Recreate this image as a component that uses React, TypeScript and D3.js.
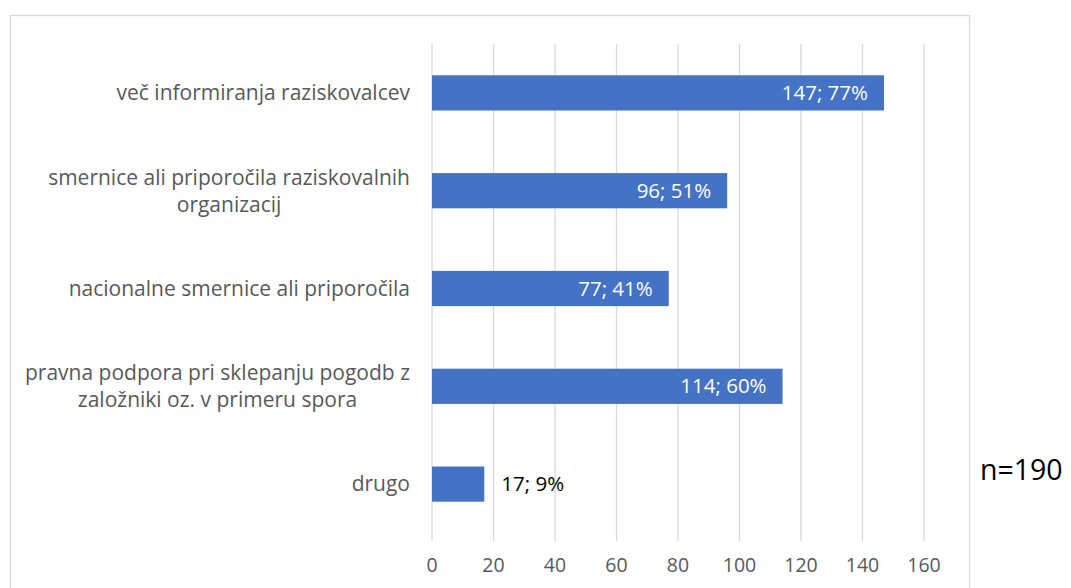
import React from 'react';
import * as d3 from 'd3';

const categories: string[][] = [
    ['več informiranja raziskovalcev'],
    ['smernice ali priporočila raziskovalnih', 'organizacij'],
    ['nacionalne smernice ali priporočila'],
    ['pravna podpora pri sklepanju pogodb z', 'založniki oz. v primeru spora'],
    ['drugo']
];
const counts = [147, 96, 77, 114, 17];
const percents = [77, 51, 41, 60, 9];
const xTicks = [0, 20, 40, 60, 80, 100, 120, 140, 160];
const note = 'n=190';

const svgWidth = 1071;
const svgHeight = 588;
const font = '"Open Sans", sans-serif';

const App = () => {
    const ref = React.useRef<SVGSVGElement>(null);

    React.useEffect(() => {
        document.body.style.margin = '0';
        const svg = d3.select(ref.current);
        svg.selectAll('*').remove();

        let x = d3.scaleLinear().domain([0, 160]).range([432, 924]);
        let y = d3.scaleBand<number>().domain(d3.range(counts.length)).range([44, 533])
            .paddingInner(0.64).paddingOuter(0.32);

        // outer border
        svg.append('rect').attr('x', 10.5).attr('y', 15.5).attr('width', 959).attr('height', 620)
            .attr('fill', 'white').attr('stroke', '#d9d9d9').attr('stroke-width', 1.3);

        // gridlines
        svg.append('g').selectAll('line').data(xTicks).join('line')
            .attr('x1', d => x(d)).attr('x2', d => x(d)).attr('y1', 44).attr('y2', 541)
            .attr('stroke', '#d9d9d9').attr('stroke-width', 1.3);

        // tick labels
        svg.append('g').selectAll('text').data(xTicks).join('text')
            .attr('x', d => x(d)).attr('y', 565).attr('dy', '0.35em')
            .attr('text-anchor', 'middle').attr('font-family', font).attr('font-size', 19.5)
            .attr('fill', '#595959').text(d => d);

        // bars
        svg.append('g').selectAll('rect').data(counts).join('rect')
            .attr('x', x(0)).attr('y', (d, i) => y(i)!).attr('width', d => x(d) - x(0))
            .attr('height', y.bandwidth()).attr('fill', '#4472C4');

        // value labels
        const lg = svg.append('g');
        counts.forEach((c, i) => {
            const t = lg.append('text').attr('y', y(i)! + y.bandwidth() / 2).attr('dy', '0.35em')
                .attr('font-family', font).attr('font-size', 20.5).text(`${c}; ${percents[i]}%`);
            const w = (t.node() as SVGTextElement).getComputedTextLength();
            const barW = x(c) - x(0);
            if (w + 30 < barW) {
                t.attr('x', x(c) - 16).attr('text-anchor', 'end').attr('fill', 'white');
            } else {
                t.attr('x', x(c) + 17).attr('text-anchor', 'start').attr('fill', 'black');
            }
        });

        // category labels, lines centred in a block that ends at the right edge
        const cg = svg.append('g');
        const right = 410;
        const lineH = 27;
        categories.forEach((lines, i) => {
            const cy = y(i)! + y.bandwidth() / 2;
            const texts = lines.map((s, j) => cg.append('text')
                .attr('y', cy + (j - (lines.length - 1) / 2) * lineH).attr('dy', '0.35em')
                .attr('font-family', font).attr('font-size', 21).attr('fill', '#595959')
                .attr('text-anchor', 'middle').text(s));
            const maxW = d3.max(texts, t => (t.node() as SVGTextElement).getComputedTextLength()) || 0;
            texts.forEach(t => t.attr('x', right - maxW / 2));
        });

        svg.append('text').attr('x', 980).attr('y', 470).attr('dy', '0.35em')
            .attr('font-family', font).attr('font-size', 28.5).attr('fill', 'black').text(note);
    }, []);

    return <svg ref={ref} width={svgWidth} height={svgHeight} style={{ display: 'block', background: 'white' }} />;
};

export default App;
